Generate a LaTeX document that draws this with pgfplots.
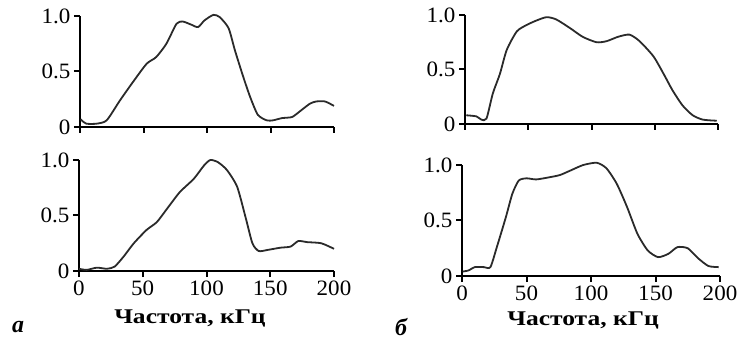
\documentclass[border=0pt]{standalone}
\usepackage{fontspec}
\setmainfont{Liberation Serif}
\newfontfamily\labfont[FakeStretch=1.22]{Liberation Serif}
\newfontfamily\tickfont[FakeStretch=1.05]{Liberation Serif}
\usepackage{pgfplots}
\pgfplotsset{compat=1.18}
\definecolor{curve}{HTML}{2A2A2A}
\pgfplotsset{
  panel/.style={
    scale only axis,
    anchor=south west,
    xmin=0, xmax=200, ymin=0, ymax=1,
    axis x line=bottom, axis y line=left,
    axis line style={-, line width=2.2bp},
    x axis line style={line width=2.2bp},
    y axis line style={line width=2.2bp},
    major tick style={line width=2bp, black},
    tick align=outside,
    major tick length=6bp,
    xtick={0,50,100,150,200},
    ytick={0,0.5,1},
    yticklabels={0,0.5,1.0},
    /pgf/number format/assume math mode=true,
    tick label style={font=\tickfont\fontsize{22}{24}\selectfont},
    clip=false,
  },
  crv/.style={draw=curve, line width=1.8bp, smooth, tension=0.4, mark=none},
}
\begin{document}
\begin{tikzpicture}
\path[use as bounding box] (0,0) rectangle (737bp,341bp);
% top left
\begin{axis}[panel, at={(80bp,214bp)}, width=254bp, height=111bp, xticklabels={}]
\addplot[crv] coordinates {(0.5,0.07)(1.3,0.06)(5,0.03)(13,0.03)(21,0.06)(31.5,0.24)(42,0.41)(52.5,0.57)(60,0.63)(68,0.75)(76,0.93)(81,0.95)(88,0.92)(93,0.90)(98,0.96)(105,1.01)(110,0.99)(117,0.89)(122,0.69)(128.6,0.45)(134,0.27)(140,0.11)(147,0.06)(152,0.06)(159,0.08)(167,0.09)(173,0.14)(181,0.21)(186,0.23)(193,0.23)(200,0.19)};
\end{axis}
% bottom left
\begin{axis}[panel, at={(79bp,70bp)}, width=255bp, height=111bp]
\addplot[crv] coordinates {(0,0.02)(6,0.01)(14,0.03)(22,0.02)(28,0.04)(35,0.13)(43,0.25)(53,0.37)(61,0.44)(69,0.56)(79,0.71)(90,0.83)(98,0.95)(103,1.0)(109,0.98)(116,0.91)(124,0.76)(130.5,0.49)(136,0.25)(141,0.18)(148,0.19)(158,0.21)(166,0.22)(172,0.27)(179,0.26)(190,0.25)(200,0.20)};
\end{axis}
% top right
\begin{axis}[panel, at={(465bp,217bp)}, width=253bp, height=109bp, xticklabels={}]
\addplot[crv] coordinates {(1,0.08)(9,0.07)(13,0.04)(17,0.05)(22,0.28)(27.6,0.46)(33,0.68)(41,0.85)(49,0.91)(56.6,0.95)(64.5,0.98)(72,0.96)(83,0.88)(93,0.80)(104,0.75)(112,0.76)(121,0.80)(130,0.82)(138,0.76)(149,0.62)(157,0.46)(164,0.31)(172,0.17)(180,0.08)(188,0.04)(199,0.03)};
\end{axis}
% bottom right
\begin{axis}[panel, at={(462bp,65bp)}, width=258bp, height=111bp]
\addplot[crv] coordinates {(0.5,0.04)(5,0.05)(10,0.08)(17,0.08)(22,0.08)(27,0.26)(34,0.53)(39,0.74)(44,0.86)(50,0.88)(57.5,0.87)(68,0.89)(76,0.91)(84,0.95)(94,1.0)(104.5,1.02)(112,0.97)(120,0.83)(128,0.62)(136,0.38)(144,0.23)(152,0.17)(160,0.20)(167,0.26)(175,0.25)(183,0.16)(191,0.09)(199,0.08)};
\end{axis}
\node[font=\labfont\fontsize{21}{24}\selectfont\bfseries] at (190bp,23bp) {Частота, кГц};
\node[font=\labfont\fontsize{21}{24}\selectfont\bfseries] at (583bp,21bp) {Частота, кГц};
\node[font=\fontsize{24}{26}\selectfont\bfseries\itshape, inner sep=1bp] at (18bp,14bp) {а};
\node[font=\fontsize{24}{26}\selectfont\bfseries\itshape, inner sep=1bp] at (401bp,14bp) {б};
\end{tikzpicture}
\end{document}
